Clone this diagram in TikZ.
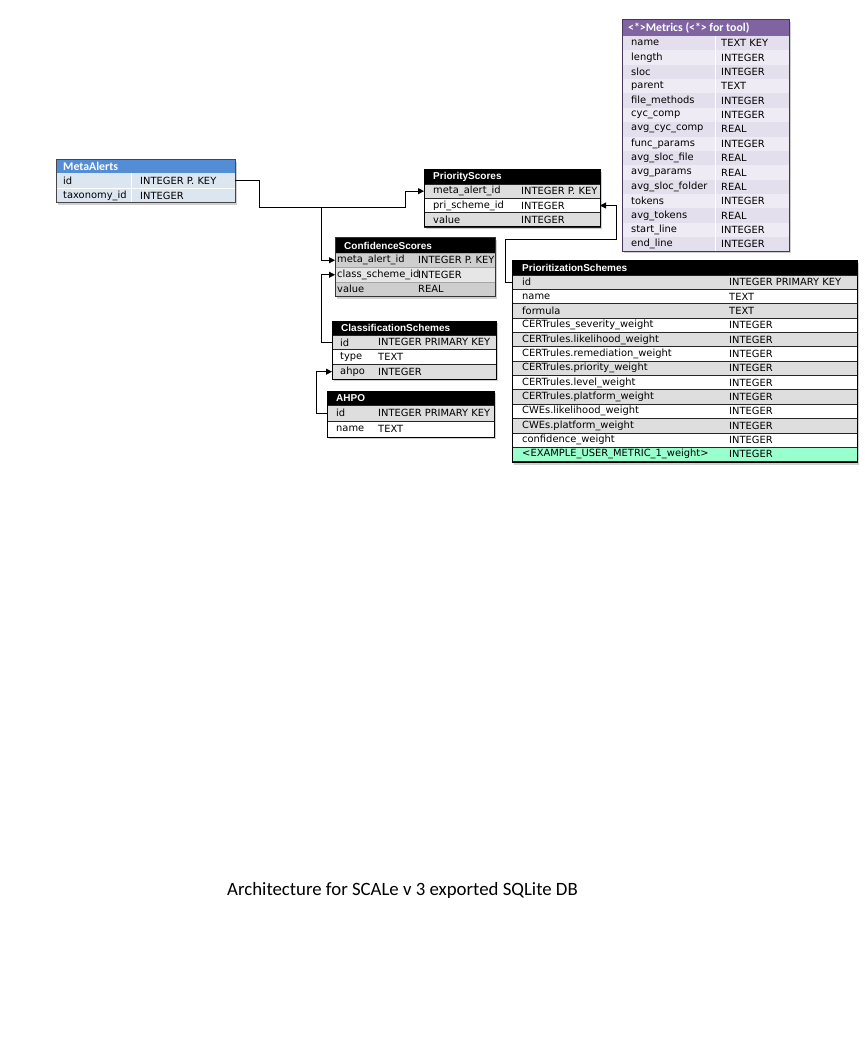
\documentclass[tikz,border=0pt]{standalone}
\usepackage{fontspec}
\setmainfont{DejaVu Sans}
\newfontfamily\hdfont{Liberation Sans}
\newfontfamily\capfont{Carlito}
\usetikzlibrary{arrows.meta,shadows}
\definecolor{mahead}{RGB}{83,141,213}
\definecolor{marow}{RGB}{220,230,241}
\definecolor{maborder}{RGB}{70,70,70}
\definecolor{mthead}{RGB}{128,100,162}
\definecolor{mtrowa}{RGB}{228,223,236}
\definecolor{mtrowb}{RGB}{238,235,244}
\definecolor{mtborder}{RGB}{70,55,90}
\definecolor{rowg}{RGB}{222,222,222}
\definecolor{csg}{RGB}{206,206,206}
\definecolor{csl}{RGB}{230,230,230}
\definecolor{greenrow}{RGB}{153,255,204}
\begin{document}
\begin{tikzpicture}[x=1pt,y=-1pt,
  cell/.style={inner sep=0pt, outer sep=0pt, anchor=north west},
  box/.style={cell, fill=white, drop shadow={shadow xshift=2pt, shadow yshift=-2pt, fill=gray!60, opacity=0.6}},
  rowline/.style={cell, draw=black!85, line width=0.7pt},
  btxt/.style={inner sep=0pt, anchor=west, font=\fontsize{9.9}{11}\selectfont, text=black},
  htxt/.style={inner sep=0pt, anchor=west, font=\hdfont\bfseries\fontsize{10}{12}\selectfont, text=white},
  xhtxt/.style={inner sep=0pt, anchor=west, font=\capfont\bfseries\fontsize{11.8}{13}\selectfont, text=white},
  conn/.style={draw=black, line width=1pt},
  arr/.style={conn, -{Triangle[length=6pt,width=6pt]}}]
\useasboundingbox[fill=white] (0,0) rectangle (864,1056);

% ---------------- MetaAlerts
\node[box, minimum width=179, minimum height=43] (mabox) at (56,160) {};
\node[cell, fill=mahead, minimum width=179, minimum height=13] (mah) at (56,160) {};
\node[xhtxt] (maht) at ([xshift=7]mah.west) {MetaAlerts};
\foreach \n/\t [count=\i] in {id/INTEGER P. KEY, taxonomy\_id/INTEGER} {
  \node[cell, fill=marow, minimum width=179, minimum height=15] (ma\i) at (56,{173+(\i-1)*15}) {};
  \node[btxt] (man\i) at ([xshift=7]ma\i.west) {\n};
  \node[btxt] (mat\i) at ([xshift=84]ma\i.west) {\t};
}
\draw[white, line width=0.8pt] ([xshift=75]ma1.north west) -- ([xshift=75]ma2.south west);
\draw[white, line width=0.6pt] (ma2.north west) -- (ma2.north east);
\draw[maborder, line width=1pt] (mabox.north west) rectangle (mabox.south east);

% ---------------- PriorityScores
\node[box, minimum width=176, minimum height=57] (psbox) at (424,170) {};
\node[cell, fill=black, minimum width=176, minimum height=14] (psh) at (424,170) {};
\node[htxt] (psht) at ([xshift=9]psh.west) {PriorityScores};
\foreach \n/\t/\f [count=\i] in {meta\_alert\_id/INTEGER P. KEY/rowg, pri\_scheme\_id/INTEGER/white, value/INTEGER/rowg} {
  \node[rowline, fill=\f, minimum width=176, minimum height=14.33] (ps\i) at (424,{184+(\i-1)*14.33}) {};
  \node[btxt] (psn\i) at ([xshift=9]ps\i.west) {\n};
  \node[btxt] (pst\i) at ([xshift=97]ps\i.west) {\t};
}
\draw[black, line width=1pt] (psbox.north west) rectangle (psbox.south east);

% ---------------- ConfidenceScores
\node[box, minimum width=160, minimum height=58.5] (csbox) at (335,238) {};
\node[cell, fill=black, minimum width=160, minimum height=15] (csh) at (335,238) {};
\node[htxt] (csht) at ([xshift=9]csh.west) {ConfidenceScores};
\foreach \n/\t/\f [count=\i] in {meta\_alert\_id/INTEGER P. KEY/csg, class\_scheme\_id/INTEGER/csl, value/REAL/csg} {
  \node[cell, draw=gray!70, line width=0.6pt, fill=\f, minimum width=160, minimum height=14.5] (cs\i) at (335,{253+(\i-1)*14.5}) {};
  \node[btxt] (csn\i) at ([xshift=2]cs\i.west) {\n};
  \node[btxt] (cst\i) at ([xshift=83]cs\i.west) {\t};
}
\draw[black!80, line width=1pt] (csbox.north west) rectangle (csbox.south east);

% ---------------- ClassificationSchemes
\node[box, minimum width=164, minimum height=58] (clbox) at (332,321) {};
\node[cell, fill=black, minimum width=164, minimum height=14] (clh) at (332,321) {};
\node[htxt] (clht) at ([xshift=9]clh.west) {ClassificationSchemes};
\foreach \n/\t/\f [count=\i] in {id/INTEGER PRIMARY KEY/rowg, type/TEXT/white, ahpo/INTEGER/rowg} {
  \node[rowline, fill=\f, minimum width=164, minimum height=14.67] (cl\i) at (332,{335+(\i-1)*14.67}) {};
  \node[btxt] (cln\i) at ([xshift=8]cl\i.west) {\n};
  \node[btxt] (clt\i) at ([xshift=46]cl\i.west) {\t};
}
\draw[black, line width=1pt] (clbox.north west) rectangle (clbox.south east);

% ---------------- AHPO
\node[box, minimum width=167, minimum height=46] (ahbox) at (327,391) {};
\node[cell, fill=black, minimum width=167, minimum height=14] (ahh) at (327,391) {};
\node[htxt] (ahht) at ([xshift=9]ahh.west) {AHPO};
\foreach \n/\t/\f [count=\i] in {id/INTEGER PRIMARY KEY/rowg, name/TEXT/white} {
  \node[rowline, fill=\f, minimum width=167, minimum height=16] (ah\i) at (327,{405+(\i-1)*16}) {};
  \node[btxt] (ahn\i) at ([xshift=9]ah\i.west) {\n};
  \node[btxt] (aht\i) at ([xshift=51]ah\i.west) {\t};
}
\draw[black, line width=1pt] (ahbox.north west) rectangle (ahbox.south east);

% ---------------- PrioritizationSchemes
\node[box, minimum width=345, minimum height=201.55] (prbox) at (512,261) {};
\node[cell, fill=black, minimum width=345, minimum height=14] (prh) at (512,261) {};
\node[htxt] (prht) at ([xshift=10]prh.west) {PrioritizationSchemes};
\foreach \n/\t/\f [count=\i] in {
  id/INTEGER PRIMARY KEY/rowg,
  name/TEXT/white,
  formula/TEXT/rowg,
  CERTrules\_severity\_weight/INTEGER/white,
  CERTrules.likelihood\_weight/INTEGER/rowg,
  CERTrules.remediation\_weight/INTEGER/white,
  CERTrules.priority\_weight/INTEGER/rowg,
  CERTrules.level\_weight/INTEGER/white,
  CERTrules.platform\_weight/INTEGER/rowg,
  CWEs.likelihood\_weight/INTEGER/white,
  CWEs.platform\_weight/INTEGER/rowg,
  confidence\_weight/INTEGER/white,
  <EXAMPLE\_USER\_METRIC\_1\_weight>/INTEGER/greenrow} {
  \node[rowline, fill=\f, minimum width=345, minimum height=14.35] (pr\i) at (512,{275+(\i-1)*14.35}) {};
  \node[btxt] (prn\i) at ([xshift=10]pr\i.west) {\n};
  \node[btxt] (prt\i) at ([xshift=217]pr\i.west) {\t};
}
\draw[black, line width=1pt] (prbox.north west) rectangle (prbox.south east);

% ---------------- Metrics
\node[box, minimum width=167, minimum height=231.4] (mtbox) at (622,20) {};
\node[cell, fill=mthead, minimum width=167, minimum height=16] (mth) at (622,20) {};
\node[xhtxt] (mtht) at ([xshift=6]mth.west) {<*>Metrics (<*> for tool)};
\foreach \n/\t/\f [count=\i] in {
  name/TEXT KEY/mtrowa,
  length/INTEGER/mtrowb,
  sloc/INTEGER/mtrowa,
  parent/TEXT/mtrowb,
  file\_methods/INTEGER/mtrowa,
  cyc\_comp/INTEGER/mtrowb,
  avg\_cyc\_comp/REAL/mtrowa,
  func\_params/INTEGER/mtrowb,
  avg\_sloc\_file/REAL/mtrowa,
  avg\_params/REAL/mtrowb,
  avg\_sloc\_folder/REAL/mtrowa,
  tokens/INTEGER/mtrowb,
  avg\_tokens/REAL/mtrowa,
  start\_line/INTEGER/mtrowb,
  end\_line/INTEGER/mtrowa} {
  \node[cell, fill=\f, minimum width=167, minimum height=14.36] (mt\i) at (622,{36+(\i-1)*14.36}) {};
  \node[btxt] (mtn\i) at ([xshift=9]mt\i.west) {\n};
  \node[btxt] (mtt\i) at ([xshift=99]mt\i.west) {\t};
}
\draw[white, line width=0.8pt] ([xshift=93]mt1.north west) -- ([xshift=93]mt15.south west);
\draw[mtborder, line width=1pt] (mtbox.north west) rectangle (mtbox.south east);

% ---------------- connectors
\coordinate (j1) at (259,208);
\coordinate (j2) at (321,208);
\coordinate (j3) at (405,208);
\coordinate (q2) at (616,240);
\draw[arr] (ma1.east) -| (j1) -- (j3) |- (ps1.west);
\draw[arr] (j2) |- (cs1.west);
\draw[arr] (cl1.west) -- ([xshift=-11]cl1.west) |- (cs2.west);
\draw[arr] (ah1.west) -- ([xshift=-11]ah1.west) |- (cl3.west);
\draw[arr] (pr1.west) -- ([xshift=-7]pr1.west) |- (q2) |- (ps2.east);

% ---------------- caption
\node[inner sep=0pt, anchor=west, font=\capfont\fontsize{18.8}{22}\selectfont] (cap) at (227,890) {Architecture for SCALe v 3 exported SQLite DB};
\end{tikzpicture}
\end{document}
